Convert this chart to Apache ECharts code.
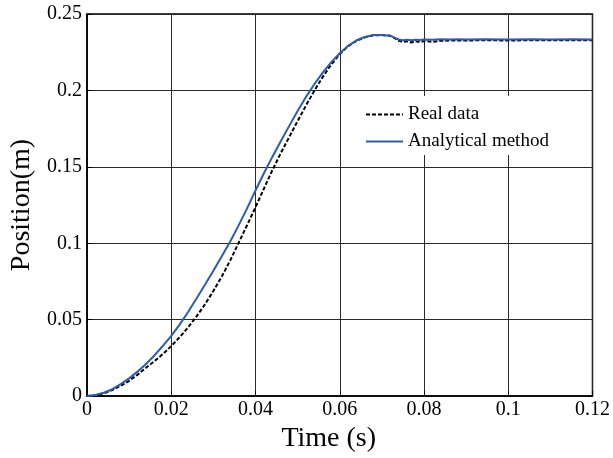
<!DOCTYPE html>
<html>
<head>
<meta charset="utf-8">
<script src="https://cdn.jsdelivr.net/npm/echarts@6/dist/echarts.min.js"></script>
<style>
  html, body { margin: 0; padding: 0; background: #fff; }
  #chart { width: 613px; height: 458px; }
</style>
</head>
<body>
<div id="chart"></div>
<script>
// Sample times (s)
const time = [
  0, 0.002, 0.004, 0.006, 0.008, 0.010, 0.012, 0.014, 0.016, 0.018,
  0.020, 0.022, 0.024, 0.026, 0.028, 0.030, 0.032, 0.034, 0.036, 0.038,
  0.040, 0.042, 0.044, 0.046, 0.048, 0.050, 0.052, 0.054, 0.056, 0.058,
  0.060, 0.062, 0.064, 0.066, 0.068, 0.070, 0.072,
  0.073, 0.074, 0.075, 0.076, 0.077, 0.078, 0.079, 0.080,
  0.082, 0.084, 0.086, 0.088, 0.090, 0.095, 0.100, 0.105, 0.110, 0.115, 0.120
];

// Measured position (m)
const realData = [
  0, 0.0005, 0.0018, 0.0040, 0.0068, 0.0100, 0.0140, 0.0185, 0.0228, 0.0275,
  0.0327, 0.0385, 0.0450, 0.0522, 0.0600, 0.0688, 0.0783, 0.0888, 0.1003, 0.1118,
  0.1235, 0.1358, 0.1478, 0.1590, 0.1695, 0.1800, 0.1902, 0.2000, 0.2090, 0.2170,
  0.2238, 0.2290, 0.2325, 0.2348, 0.2360, 0.2362, 0.2357,
  0.2343, 0.2325, 0.2318, 0.2322, 0.2314, 0.2322, 0.2316, 0.2323,
  0.2318, 0.2325, 0.2326, 0.2327, 0.2327, 0.2328, 0.2327, 0.2328, 0.2328, 0.2328, 0.2328
];

// Analytical model position (m)
const analytical = [
  0, 0.0007, 0.0022, 0.0045, 0.0078, 0.0116, 0.0160, 0.0210, 0.0266, 0.0328,
  0.0394, 0.0468, 0.0550, 0.0638, 0.0728, 0.0820, 0.0915, 0.1012, 0.1117, 0.1228,
  0.1345, 0.1458, 0.1565, 0.1668, 0.1768, 0.1865, 0.1958, 0.2042, 0.2118, 0.2185,
  0.2243, 0.2292, 0.2328, 0.2350, 0.2362, 0.2363, 0.2358,
  0.2345, 0.2333, 0.2328, 0.2331, 0.2329, 0.2332, 0.2330, 0.2333,
  0.2332, 0.2334, 0.2333, 0.2334, 0.2333, 0.2334, 0.2333, 0.2334, 0.2333, 0.2334, 0.2333
];

const xTicks = { min: 0, max: 0.12, interval: 0.02 };
const yTicks = { min: 0, max: 0.25, interval: 0.05 };

const FONT = 'Liberation Serif';

function pairs(xs, ys) { return xs.map((x, i) => [x, ys[i]]); }

const chart = echarts.init(document.getElementById('chart'), null, { renderer: 'canvas' });

chart.setOption({
  animation: false,
  backgroundColor: '#fff',
  grid: {
    left: 87, right: 19, top: 14, bottom: 61,
    show: true, borderColor: '#000', borderWidth: 1.5, backgroundColor: 'transparent'
  },
  legend: {
    orient: 'vertical',
    left: 360, top: 96,
    itemWidth: 37, itemHeight: 20, itemGap: 8,
    backgroundColor: '#fff',
    padding: [9, 30, 4, 5],
    itemStyle: { opacity: 0 },
    textStyle: { fontFamily: FONT, fontSize: 19, color: '#000' },
    data: ['Real data', 'Analytical method']
  },
  xAxis: {
    type: 'value',
    min: xTicks.min, max: xTicks.max, interval: xTicks.interval,
    name: 'Time (s)', nameLocation: 'middle', nameGap: 22,
    nameTextStyle: { fontFamily: FONT, fontSize: 28, color: '#000', padding: [0, 22, 0, 0] },
    axisLine: { show: true, lineStyle: { color: '#000', width: 1.5 } },
    axisTick: { show: true, inside: true, length: 5, lineStyle: { color: '#000' } },
    axisLabel: { fontFamily: FONT, fontSize: 20, color: '#000', margin: 4 },
    splitLine: { show: true, lineStyle: { color: '#2a2a2a', width: 1 } }
  },
  yAxis: {
    type: 'value',
    min: yTicks.min, max: yTicks.max, interval: yTicks.interval,
    name: 'Position(m)', nameLocation: 'middle', nameGap: 45,
    nameTextStyle: { fontFamily: FONT, fontSize: 28, color: '#000' },
    axisLine: { show: true, lineStyle: { color: '#000', width: 1.5 } },
    axisTick: { show: true, inside: true, length: 5, lineStyle: { color: '#000' } },
    axisLabel: { fontFamily: FONT, fontSize: 20, color: '#000', margin: 5 },
    splitLine: { show: true, lineStyle: { color: '#2a2a2a', width: 1 } }
  },
  series: [
    {
      name: 'Real data',
      type: 'line',
      data: pairs(time, realData),
      showSymbol: false, symbol: 'none',
      lineStyle: { color: '#000', width: 2, type: [4, 2] },
      itemStyle: { color: '#000' },
      z: 2
    },
    {
      name: 'Analytical method',
      type: 'line',
      data: pairs(time, analytical),
      showSymbol: false, symbol: 'none',
      lineStyle: { color: '#2a5db0', width: 2 },
      itemStyle: { color: '#2a5db0' },
      z: 3
    }
  ]
});
</script>
</body>
</html>
